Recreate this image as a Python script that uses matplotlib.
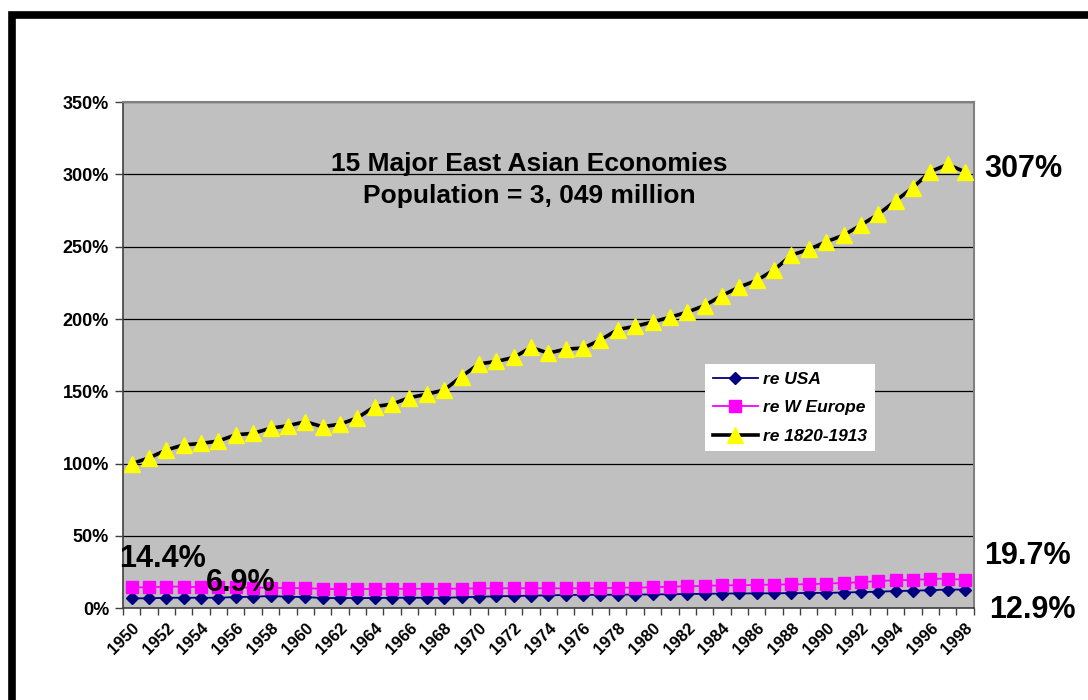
import matplotlib
matplotlib.use("Agg")
import matplotlib.pyplot as plt
import numpy as np
from matplotlib.patches import Rectangle
from matplotlib.ticker import FuncFormatter

plt.rcParams['font.family'] = ['Liberation Sans', 'DejaVu Sans']

years = list(range(1950, 1999))

# GDP per capita of the East Asian group, relative to each benchmark (%)
re_usa = [6.9, 6.9, 7.3, 7.3, 7.3, 7.3, 7.8, 8.0, 8.5, 8.0,
          7.8, 7.1, 7.1, 7.1, 7.1, 7.3, 7.3, 7.3, 7.3, 7.6,
          8.0, 8.3, 8.5, 8.7, 9.0, 9.2, 9.3, 9.3, 9.4, 9.5,
          9.6, 9.7, 9.9, 10.0, 10.2, 10.3, 10.3, 10.4, 10.5, 10.6,
          10.7, 10.9, 11.2, 11.5, 11.9, 12.2, 12.5, 13.0, 12.9]
re_weurope = [14.4, 14.6, 15.0, 15.0, 14.6, 14.5, 14.4, 14.3, 14.2, 14.0,
              13.9, 13.5, 13.2, 13.2, 13.5, 13.5, 13.5, 13.5, 13.5, 13.6,
              13.8, 13.8, 13.9, 13.9, 13.8, 13.8, 13.8, 13.8, 14.3, 14.3,
              14.5, 15.0, 15.2, 15.5, 15.9, 15.9, 16.2, 16.4, 16.6, 16.6,
              17.1, 17.5, 18.0, 18.9, 19.4, 19.6, 20.3, 20.5, 19.7]
re_1820_1913 = [100, 104, 109.5, 113, 114, 115.7, 120, 121, 124.5, 126.3,
                129, 125.6, 127.3, 131.7, 139.5, 141.2, 145.7, 148, 151, 160.3,
                169, 170.7, 173.5, 180.4, 176.5, 179.2, 180, 185.6, 192.8, 195,
                198, 201.3, 204.8, 209.4, 216.3, 222.2, 226.8, 234, 244.3, 248.2,
                253.5, 258, 265, 272.5, 281.8, 291, 302, 307, 301.8]
series_labels = ['re USA', 're W Europe', 're 1820-1913']

x = np.arange(len(years))

fig = plt.figure(figsize=(10.88, 7.0), dpi=100)
ax = fig.add_axes([0.113, 0.131, 0.782, 0.723])
ax.set_facecolor('#C0C0C0')

ax.plot(x, re_usa, color='#000080', lw=1.3, marker='D', ms=6,
        mfc='#000080', mec='#000080', label=series_labels[0], zorder=3)
ax.plot(x, re_weurope, color='#FF00FF', lw=1.3, marker='s', ms=9,
        mfc='#FF00FF', mec='#FF00FF', label=series_labels[1], zorder=4)
ax.plot(x, re_1820_1913, color='black', lw=2.6, marker='^', ms=12,
        mfc='#FFFF00', mec='#FFFF00', label=series_labels[2], zorder=5)

ax.set_xlim(-0.5, len(years) - 0.5)
ax.set_ylim(0, 350)
ax.set_yticks(np.arange(0, 351, 50))
ax.yaxis.set_major_formatter(FuncFormatter(lambda v, p: f'{v:.0f}%'))
ax.grid(axis='y', color='black', lw=0.9, zorder=1)
ax.set_axisbelow(True)

# category axis: tick marks between years, labels on every other year
ax.set_xticks(x[::2])
ax.set_xticklabels([str(y) for y in years[::2]], rotation=45, ha='right',
                   rotation_mode='anchor', fontsize=12, fontweight='bold')
ax.set_xticks(np.arange(-0.5, len(years), 1), minor=True)
ax.tick_params(axis='x', which='major', length=0, pad=9)
ax.tick_params(axis='x', which='minor', length=5, color='#404040', width=1)
ax.tick_params(axis='y', length=6, width=1, color='#404040', pad=4,
               labelsize=13)
for lbl in ax.get_yticklabels():
    lbl.set_fontweight('bold')

for side in ['top', 'right']:
    ax.spines[side].set_color('#808080')
    ax.spines[side].set_linewidth(1.5)
ax.spines['left'].set_color('#404040')
ax.spines['left'].set_linewidth(1.2)
ax.spines['bottom'].set_color('#404040')
ax.spines['bottom'].set_linewidth(1.2)

ax.text(0.478, 0.846, '15 Major East Asian Economies\nPopulation = 3, 049 million',
        transform=ax.transAxes, ha='center', va='center', fontsize=19,
        fontweight='bold', linespacing=1.45)

big = dict(fontsize=22, fontweight='bold', va='center', clip_on=False, zorder=6)
ax.text(49.1, 304, f'{re_1820_1913[-2]:.0f}%', ha='left', **big)
ax.text(49.1, 36, f'{re_weurope[-1]:.1f}%', ha='left', **big)
ax.text(49.4, -1, f'{re_usa[-1]:.1f}%', ha='left', **big)
ax.text(-0.7, 34, f'{re_weurope[0]:.1f}%', ha='left', **big)
ax.text(4.3, 17.5, f'{re_usa[0]:.1f}%', ha='left', **big)

leg = ax.legend(loc='upper left', bbox_to_anchor=(0.684, 0.482),
                prop=dict(weight='bold', style='italic', size=12.5),
                frameon=True, fancybox=False, framealpha=1, edgecolor='white',
                borderpad=0.45, labelspacing=0.75, handlelength=2.6,
                handletextpad=0.3, borderaxespad=0)
leg.get_frame().set_linewidth(0)

# heavy frame around the slide
fig.add_artist(Rectangle((11.5 / 1088, -0.2), 2.0, 1.2 - 15 / 700,
                         transform=fig.transFigure, fill=False,
                         ec='black', lw=5.5))

fig.savefig('out.png', dpi=100)
